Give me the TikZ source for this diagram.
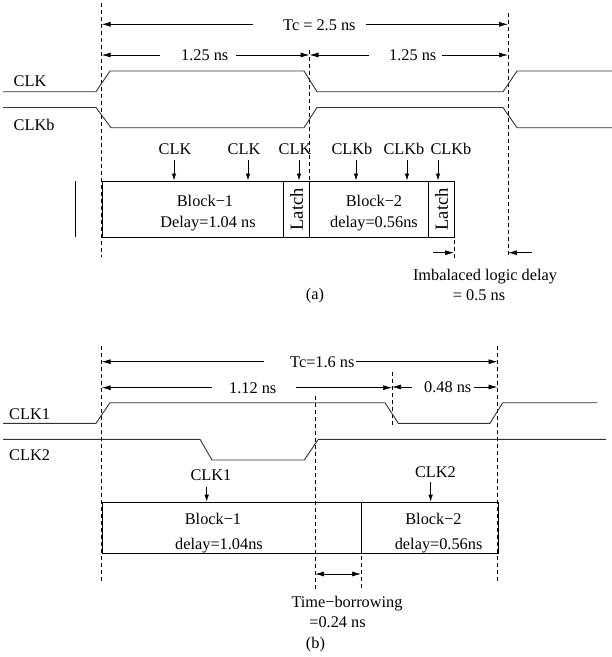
\documentclass[tikz,border=0pt]{standalone}
\usepackage{fontspec}
\setmainfont{Liberation Serif}
\usetikzlibrary{arrows.meta}
\begin{document}
\begin{tikzpicture}[x=1pt,y=-1pt,
  wave/.style={line width=0.9pt, black!80, line join=miter},
  guide/.style={line width=0.6pt, dash pattern=on 4pt off 3pt},
  dimarrow/.style={line width=0.7pt, -{Latex[length=9pt,width=5pt]}},
  twoway/.style={line width=0.7pt, {Latex[length=9pt,width=5pt]}-{Latex[length=9pt,width=5pt]}},
  clkarrow/.style={line width=0.7pt, -{Latex[length=7pt,width=4.5pt]}},
  txt/.style={font=\fontsize{16.3}{19.5}\selectfont, inner sep=0pt},
  latchtxt/.style={font=\fontsize{18.5}{20}\selectfont, inner sep=0pt, rotate=90},
  blk/.style={draw, line width=0.7pt, inner sep=0pt, anchor=north west}
]
\useasboundingbox (0,0) rectangle (612,657);

% ================= (a) =================
% guides
\draw[guide] (101.7,3) -- (101.7,257);
\draw[guide] (309.5,50) -- (309.5,180.5);
\draw[guide] (508,13) -- (508,258);
\draw[guide] (454,240) -- (454,258);

% dimension: Tc
\node[txt, anchor=base west] (tcA) at (253,30) {\hspace*{30pt}Tc = 2.5 ns\hspace*{10pt}};
\coordinate (tcAL) at (101.7,24.3);
\coordinate (tcAR) at (508,24.3);
\draw[dimarrow] (tcA.west |- tcAL) -- (tcAL);
\draw[dimarrow] (tcA.east |- tcAR) -- (tcAR);

% dimension: 1.25 ns (left)
\node[txt, anchor=base west] (hA1) at (160,60.5) {\hspace*{21pt}1.25 ns\hspace*{8pt}};
\coordinate (hA1L) at (101.7,55);
\coordinate (hA1R) at (309.5,55);
\draw[dimarrow] (hA1.west |- hA1L) -- (hA1L);
\draw[dimarrow] (hA1.east |- hA1R) -- (hA1R);

% dimension: 1.25 ns (right)
\node[txt, anchor=base west] (hA2) at (369,60.5) {\hspace*{20pt}1.25 ns\hspace*{6pt}};
\coordinate (hA2L) at (309.5,55);
\coordinate (hA2R) at (508,55);
\draw[dimarrow] (hA2.west |- hA2L) -- (hA2L);
\draw[dimarrow] (hA2.east |- hA2R) -- (hA2R);

% clocks
\node[txt, anchor=base west] (clkA) at (13.5,86.7) {CLK};
\node[txt, anchor=base west] (clkbA) at (13.5,130.5) {CLKb};
\draw[wave] (3,91.7) -- (96,91.7) -- (110,71) -- (304,71) -- (317,91.7) -- (503,91.7) -- (517,71) -- (612,71);
\draw[wave] (3,107.5) -- (96,107.5) -- (111,127.7) -- (304,127.7) -- (317,107.5) -- (503,107.5) -- (517,127.7) -- (612,127.7);

% blocks
\node[blk, minimum width=181.6pt, minimum height=56.8pt] (b1A) at (101.7,180.5) {};
\node[blk, minimum width=26pt, minimum height=56.8pt] (l1A) at (283.3,180.5) {};
\node[blk, minimum width=119pt, minimum height=56.8pt] (b2A) at (309.3,180.5) {};
\node[blk, minimum width=25.7pt, minimum height=56.8pt] (l2A) at (428.3,180.5) {};
\node[txt, anchor=base] (b1At) at (205,206.8) {Block−1};
\node[txt, anchor=base] (b1Ad) at (208,227.2) {Delay=1.04 ns};
\node[txt, anchor=base] (b2At) at (374,206.8) {Block−2};
\node[txt, anchor=base] (b2Ad) at (374,227.2) {delay=0.56ns};
\node[latchtxt] (l1At) at (l1A.center) {Latch};
\node[latchtxt] (l2At) at (l2A.center) {Latch};
\draw[line width=0.7pt] (75.7,180.5) -- (75.7,236.7);

% clock taps
\node[txt, anchor=base] (ck1) at (175,154.7) {CLK};
\node[txt, anchor=base] (ck2) at (244,154.7) {CLK};
\node[txt, anchor=base] (ck3) at (295,154.7) {CLK};
\node[txt, anchor=base] (ckb1) at (352,154.7) {CLKb};
\node[txt, anchor=base] (ckb2) at (404,154.7) {CLKb};
\node[txt, anchor=base] (ckb3) at (451,154.7) {CLKb};
\coordinate (p1) at (174,160);
\coordinate (p2) at (248,160);
\coordinate (p3) at (299,160);
\coordinate (p4) at (356,160);
\coordinate (p5) at (407,160);
\coordinate (p6) at (438,160);
\draw[clkarrow] (p1) -- (p1 |- b1A.north);
\draw[clkarrow] (p2) -- (p2 |- b1A.north);
\draw[clkarrow] (p3) -- (p3 |- l1A.north);
\draw[clkarrow] (p4) -- (p4 |- b2A.north);
\draw[clkarrow] (p5) -- (p5 |- b2A.north);
\draw[clkarrow] (p6) -- (p6 |- l2A.north);

% imbalance
\coordinate (imL0) at (433,252.7);
\coordinate (imL1) at (454,252.7);
\coordinate (imR0) at (532,252.7);
\coordinate (imR1) at (508,252.7);
\draw[dimarrow] (imL0) -- (imL1);
\draw[dimarrow] (imR0) -- (imR1);
\node[txt, anchor=base] (imt1) at (485,280) {Imbalaced logic delay};
\node[txt, anchor=base] (imt2) at (479,300.5) {= 0.5 ns};
\node[txt, anchor=base] (capA) at (315,299.5) {(a)};

% ================= (b) =================
\draw[guide] (101.7,346) -- (101.7,582);
\draw[guide] (497.5,346) -- (497.5,582);
\draw[guide] (315,396) -- (315,590);
\draw[guide] (392,372) -- (392,425);
\draw[guide] (361,556) -- (361,590);

% dimension: Tc
\node[txt, anchor=base west] (tcB) at (263.5,367.2) {\hspace*{26.5pt}Tc=1.6 ns\hspace*{1pt}};
\coordinate (tcBL) at (101.7,361.7);
\coordinate (tcBR) at (497.5,361.7);
\draw[dimarrow] (tcB.west |- tcBL) -- (tcBL);
\draw[dimarrow] (tcB.east |- tcBR) -- (tcBR);

% dimension: 1.12 ns
\node[txt, anchor=base west] (dB1) at (212,393.2) {\hspace*{17pt}1.12 ns\hspace*{20pt}};
\coordinate (dB1L) at (101.7,387.7);
\coordinate (dB1R) at (392,387.7);
\draw[dimarrow] (dB1.west |- dB1L) -- (dB1L);
\draw[dimarrow] (dB1.east |- dB1R) -- (dB1R);

% dimension: 0.48 ns
\node[txt, anchor=base west] (dB2) at (412,392.5) {\hspace*{12pt}0.48 ns\hspace*{3pt}};
\coordinate (dB2L) at (392,387);
\coordinate (dB2R) at (497.5,387);
\draw[dimarrow] (dB2.west |- dB2L) -- (dB2L);
\draw[dimarrow] (dB2.east |- dB2R) -- (dB2R);

% clocks
\node[txt, anchor=base west] (clk1B) at (9,419.7) {CLK1};
\node[txt, anchor=base west] (clk2B) at (9,460.4) {CLK2};
\draw[wave] (3,423.3) -- (96,423.3) -- (110,402.7) -- (385,402.7) -- (398.3,423.3) -- (490,423.3) -- (502.7,402.7) -- (597,402.7);
\draw[wave] (3,439.3) -- (200,439.3) -- (212,460) -- (304.3,460) -- (318.3,439.3) -- (606,439.3);

% blocks
\node[blk, minimum width=259.3pt, minimum height=51.6pt] (b1B) at (101.7,501.7) {};
\node[blk, minimum width=136.5pt, minimum height=51.6pt] (b2B) at (361,501.7) {};
\node[txt, anchor=base] (b1Bt) at (213,524.6) {Block−1};
\node[txt, anchor=base] (b1Bd) at (219,549.4) {delay=1.04ns};
\node[txt, anchor=base] (b2Bt) at (433.5,524.6) {Block−2};
\node[txt, anchor=base] (b2Bd) at (438.6,549.4) {delay=0.56ns};

% clock taps
\node[txt, anchor=base] (ck1B) at (211,480.4) {CLK1};
\node[txt, anchor=base] (ck2B) at (435.5,477) {CLK2};
\coordinate (q1) at (206.7,486.7);
\coordinate (q2) at (430.6,481.7);
\draw[clkarrow] (q1) -- (q1 |- b1B.north);
\draw[clkarrow] (q2) -- (q2 |- b2B.north);

% time borrowing
\coordinate (tbL) at (315,574);
\coordinate (tbR) at (361,574);
\draw[twoway] (tbL) -- (tbR);
\node[txt, anchor=base] (tbt1) at (347,607) {Time−borrowing};
\node[txt, anchor=base] (tbt2) at (337.5,627) {=0.24 ns};
\node[txt, anchor=base] (capB) at (315.5,648.5) {(b)};
\end{tikzpicture}
\end{document}
